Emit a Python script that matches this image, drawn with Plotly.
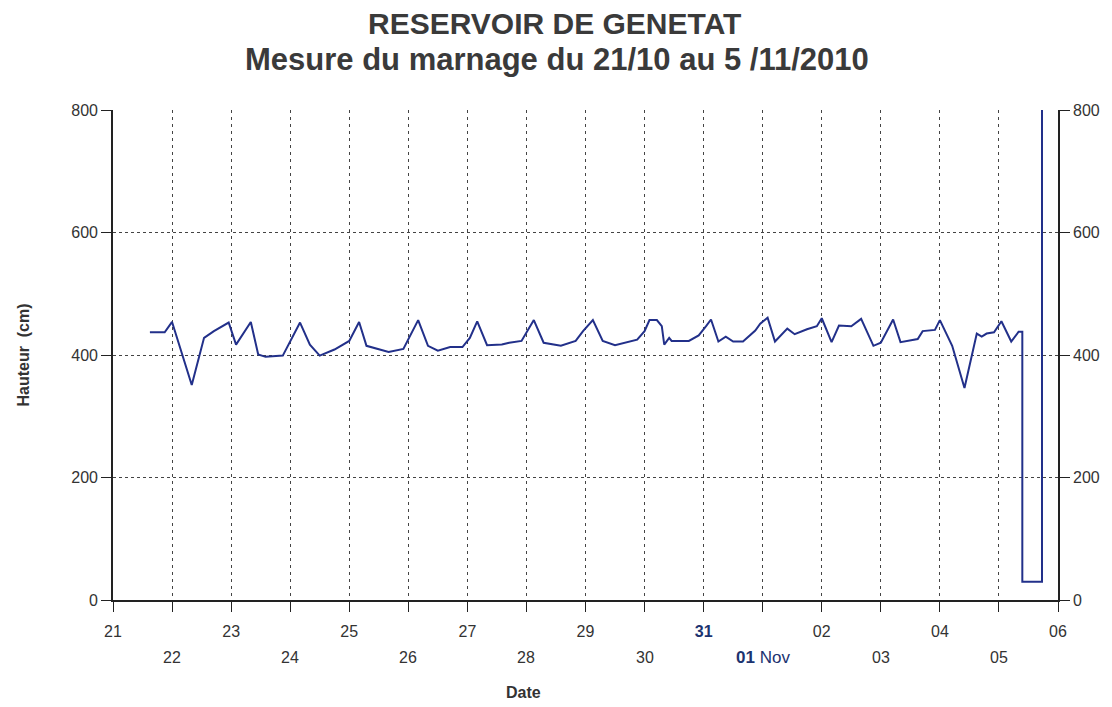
import plotly.graph_objects as go

# ---- data ----
times = [
    "2010-10-21 15:00", "2010-10-21 21:00", "2010-10-22 00:00", "2010-10-22 08:00",
    "2010-10-22 13:00", "2010-10-22 17:00", "2010-10-22 23:00", "2010-10-23 02:00",
    "2010-10-23 08:00", "2010-10-23 11:00", "2010-10-23 14:00", "2010-10-23 21:00",
    "2010-10-24 04:00", "2010-10-24 08:00", "2010-10-24 12:00", "2010-10-24 18:00",
    "2010-10-25 00:00", "2010-10-25 04:00", "2010-10-25 07:00", "2010-10-25 16:00",
    "2010-10-25 22:00", "2010-10-26 04:00", "2010-10-26 08:00", "2010-10-26 12:00",
    "2010-10-26 17:00", "2010-10-26 22:00", "2010-10-27 01:00", "2010-10-27 04:00",
    "2010-10-27 08:00", "2010-10-27 14:00", "2010-10-27 17:00", "2010-10-27 22:00",
    "2010-10-28 03:00", "2010-10-28 07:00", "2010-10-28 14:00", "2010-10-28 20:00",
    "2010-10-28 23:00", "2010-10-29 03:00", "2010-10-29 07:00", "2010-10-29 12:00",
    "2010-10-29 21:00", "2010-10-30 00:00", "2010-10-30 02:00", "2010-10-30 05:00",
    "2010-10-30 07:00", "2010-10-30 08:00", "2010-10-30 10:00", "2010-10-30 11:00",
    "2010-10-30 18:00", "2010-10-30 22:00", "2010-10-31 01:00", "2010-10-31 03:00",
    "2010-10-31 06:00", "2010-10-31 09:00", "2010-10-31 12:00", "2010-10-31 16:00",
    "2010-10-31 21:00", "2010-10-31 23:00", "2010-11-01 02:00", "2010-11-01 05:00",
    "2010-11-01 10:00", "2010-11-01 13:00", "2010-11-01 18:00", "2010-11-01 22:00",
    "2010-11-02 00:00", "2010-11-02 04:00", "2010-11-02 07:00", "2010-11-02 12:00",
    "2010-11-02 16:00", "2010-11-02 21:00", "2010-11-03 00:00", "2010-11-03 05:00",
    "2010-11-03 08:00", "2010-11-03 15:00", "2010-11-03 17:00", "2010-11-03 22:00",
    "2010-11-04 00:00", "2010-11-04 05:00", "2010-11-04 10:00", "2010-11-04 15:00",
    "2010-11-04 17:00", "2010-11-04 19:00", "2010-11-04 22:00", "2010-11-05 01:00",
    "2010-11-05 05:00", "2010-11-05 08:00", "2010-11-05 09:30", "2010-11-05 09:30",
    "2010-11-05 17:30", "2010-11-05 17:30",
]
hauteur_cm = [
    437, 437, 454, 351,
    428, 439, 453, 417,
    454, 401, 397, 399,
    453, 417, 399, 409,
    423, 454, 415, 405,
    410, 457, 415, 407,
    413, 413, 428, 455,
    416, 417, 420, 423,
    457, 420, 415, 423,
    439, 457, 423, 416,
    425, 439, 457, 457,
    447, 417, 428, 423,
    423, 432, 447, 458,
    422, 430, 422, 422,
    440, 451, 461, 422,
    443, 434, 442, 447,
    460, 421, 448, 447,
    459, 415, 420, 458,
    421, 426, 439, 441,
    457, 415, 346, 435,
    430, 435, 437, 455,
    422, 438, 438, 30,
    30, 800,
]

day_ticks = [
    "2010-10-21", "2010-10-22", "2010-10-23", "2010-10-24", "2010-10-25",
    "2010-10-26", "2010-10-27", "2010-10-28", "2010-10-29", "2010-10-30",
    "2010-10-31", "2010-11-01", "2010-11-02", "2010-11-03", "2010-11-04",
    "2010-11-05", "2010-11-06",
]
day_labels = ["21", "22", "23", "24", "25", "26", "27", "28", "29", "30",
              "31", "01 Nov", "02", "03", "04", "05", "06"]
label_row = [1, 2, 1, 2, 1, 2, 1, 2, 1, 2, 1, 2, 1, 2, 1, 2, 1]
y_ticks = [0, 200, 400, 600, 800]

title_line1 = "RESERVOIR DE GENETAT"
title_line2 = "Mesure du marnage du 21/10 au 5 /11/2010"

# ---- styling ----
FONT = "Liberation Sans Narrow, Arial Narrow, Liberation Sans, Arial, sans-serif"
BOLD_FONT = "Liberation Sans, Arial, sans-serif"
TXT = "#333333"
NAVY = "#1c3370"

def fmt_label(lbl):
    if lbl == "31":
        return f"<b><span style='color:{NAVY}'>31</span></b>"
    if lbl == "01 Nov":
        return f"<b><span style='color:{NAVY}'>01</span></b> <span style='color:{NAVY}'>Nov</span>"
    return lbl

row1_text = [fmt_label(l) if r == 1 else "" for l, r in zip(day_labels, label_row)]

fig = go.Figure()
fig.add_trace(go.Scatter(
    x=times, y=hauteur_cm, mode="lines",
    line=dict(color="#22308a", width=2),
    showlegend=False, hoverinfo="skip",
))
# invisible trace to activate the right-hand axis
fig.add_trace(go.Scatter(
    x=[day_ticks[0]], y=[0], yaxis="y2", mode="markers",
    marker=dict(opacity=0), showlegend=False, hoverinfo="skip",
))

for lbl, r, d in zip(day_labels, label_row, day_ticks):
    if r == 2:
        fig.add_annotation(
            x=d, xref="x", y=0, yref="paper", yshift=-57,
            text=fmt_label(lbl), showarrow=False,
            font=dict(family=FONT, size=17 if lbl == "01 Nov" else 16, color=TXT),
            xanchor="center", yanchor="middle",
        )

fig.add_annotation(
    x=0.434, xref="paper", y=0, yref="paper", yshift=-92,
    text="<b>Date</b>", showarrow=False,
    font=dict(family=BOLD_FONT, size=16, color=TXT),
    xanchor="center", yanchor="middle",
)

# two-line title as annotations (exact placement)
fig.add_annotation(
    x=0.467, xref="paper", y=1, yref="paper", yshift=87,
    text=f"<b>{title_line1}</b>", showarrow=False,
    font=dict(family=BOLD_FONT, size=30, color="#3a3a3a"),
    xanchor="center", yanchor="middle",
)
fig.add_annotation(
    x=0.470, xref="paper", y=1, yref="paper", yshift=51,
    text=f"<b>{title_line2}</b>", showarrow=False,
    font=dict(family=BOLD_FONT, size=31, color="#3a3a3a"),
    xanchor="center", yanchor="middle",
)

fig.update_layout(
    width=1112, height=707,
    paper_bgcolor="white", plot_bgcolor="white",
    margin=dict(l=113, r=54, t=110, b=107),
    xaxis=dict(
        type="date",
        range=["2010-10-21", "2010-11-06"],
        tickmode="array", tickvals=day_ticks, ticktext=row1_text,
        ticks="outside", ticklen=10, tickcolor="#222", tickwidth=1.3,
        ticklabelstandoff=6,
        tickfont=dict(family=FONT, size=16, color=TXT),
        showline=True, linecolor="#222", linewidth=1.6,
        showgrid=True, gridcolor="#444", gridwidth=1, griddash="3px,4px",
        zeroline=False,
    ),
    yaxis=dict(
        range=[0, 800],
        tickmode="array", tickvals=y_ticks,
        ticks="outside", ticklen=10, tickcolor="#222", tickwidth=1.3,
        tickfont=dict(family=FONT, size=16, color=TXT),
        showline=True, linecolor="#222", linewidth=1.6,
        showgrid=True, gridcolor="#444", gridwidth=1, griddash="3px,3px",
        zeroline=False,
        title=dict(text="<b>Hauteur  (cm)</b>", standoff=38,
                   font=dict(family=BOLD_FONT, size=16, color=TXT)),
    ),
    yaxis2=dict(
        range=[0, 800], overlaying="y", side="right",
        tickmode="array", tickvals=y_ticks,
        ticks="outside", ticklen=10, tickcolor="#222", tickwidth=1.3,
        tickfont=dict(family=FONT, size=16, color=TXT),
        showline=True, linecolor="#222", linewidth=1.6,
        showgrid=False, zeroline=False,
    ),
)

fig.write_html("out.html")
